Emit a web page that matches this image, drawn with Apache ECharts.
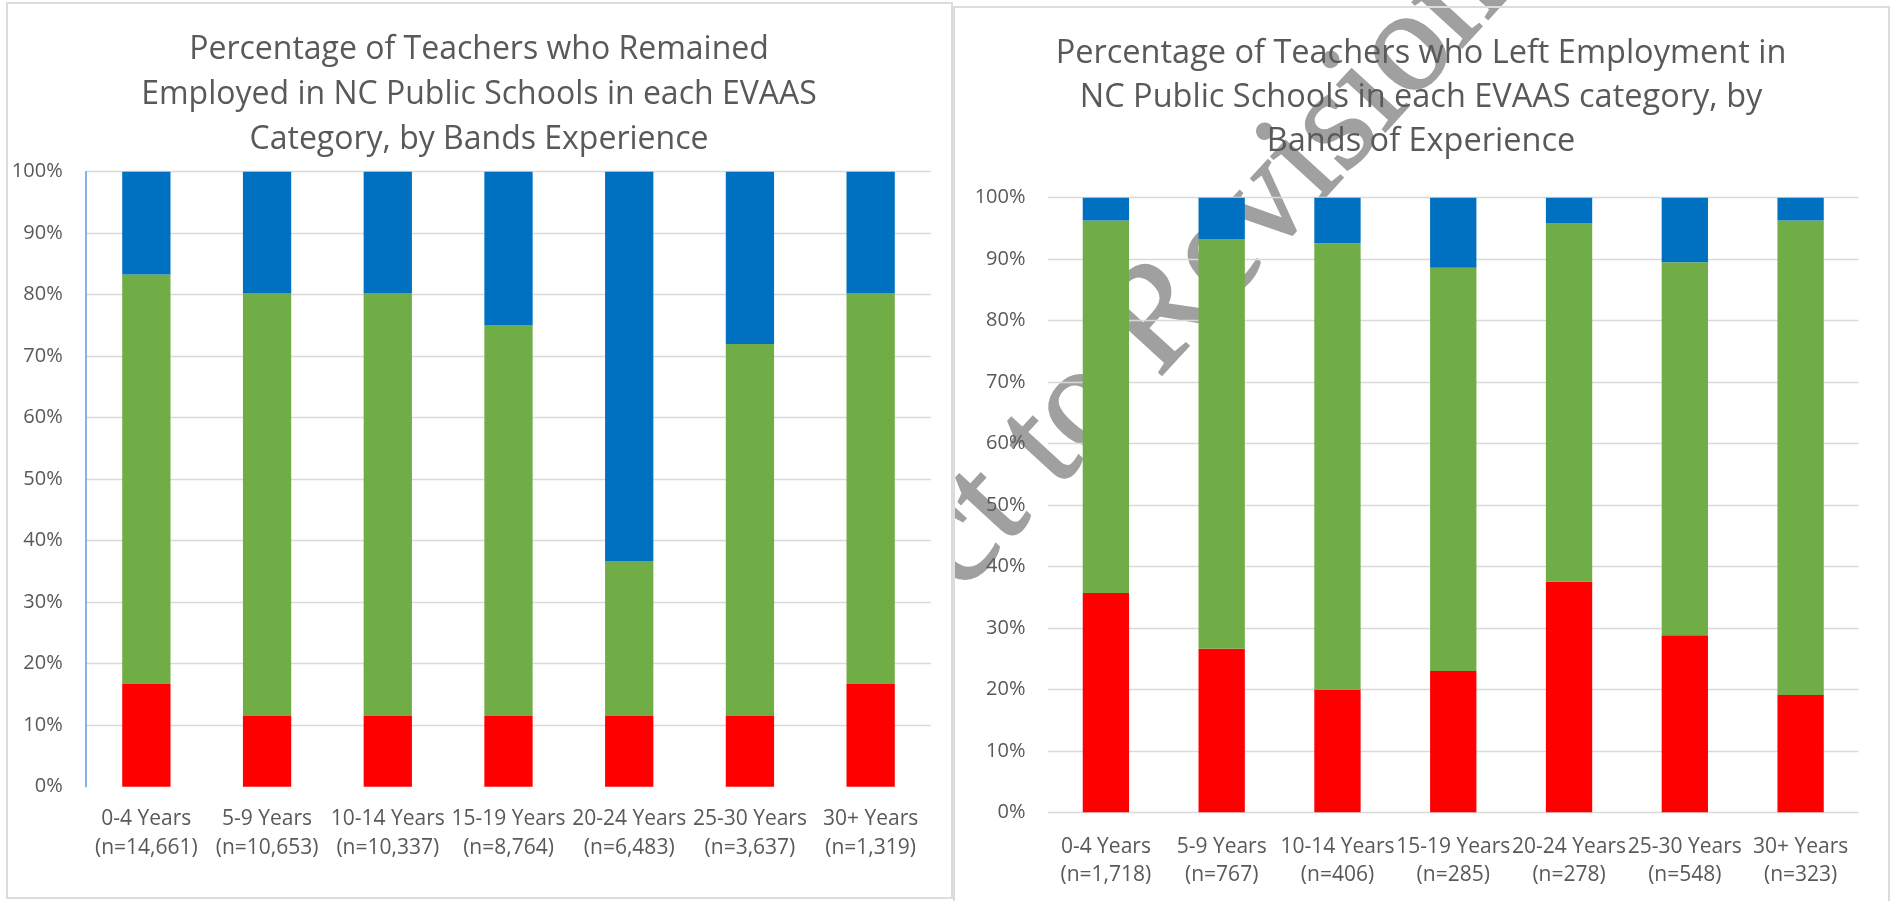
<!DOCTYPE html>
<html>
<head>
<meta charset="utf-8">
<script src="https://cdn.jsdelivr.net/npm/echarts@6/dist/echarts.min.js"></script>
<style>
html,body{margin:0;padding:0;background:#ffffff;}
#chart{width:1897px;height:901px;}
</style>
</head>
<body>
<div id="chart"></div>
<script>
// ---- Data ----
const titleLeft = 'Percentage of Teachers who Remained\nEmployed in NC Public Schools in each EVAAS\nCategory, by Bands Experience';
const titleRight = 'Percentage of Teachers who Left Employment in\nNC Public Schools in each EVAAS category, by\nBands of Experience';

const bands = ['0-4 Years', '5-9 Years', '10-14 Years', '15-19 Years', '20-24 Years', '25-30 Years', '30+ Years'];
const nRemained = ['14,661', '10,653', '10,337', '8,764', '6,483', '3,637', '1,319'];
const nLeft = ['1,718', '767', '406', '285', '278', '548', '323'];

// Stacked segment sizes in percent: bottom (red), middle (green), top (blue)
const remainedRed   = [16.7, 11.5, 11.5, 11.5, 11.5, 11.5, 16.7];
const remainedGreen = [66.6, 68.7, 68.7, 63.5, 25.2, 60.5, 63.5];
const remainedBlue  = [16.7, 19.8, 19.8, 25.0, 63.3, 28.0, 19.8];

const leftRed   = [35.7, 26.6, 20.0, 23.0, 37.5, 28.8, 19.1];
const leftGreen = [60.6, 66.7, 72.6, 65.6, 58.4, 60.7, 77.2];
const leftBlue  = [3.7, 6.7, 7.4, 11.4, 4.1, 10.5, 3.7];

const seriesNames = ['Does Not Meet', 'Meets', 'Exceeds'];
const yMin = 0, yMax = 100, yStep = 10;
const watermarkText = 'Subject to Revision';

// ---- Styles ----
const FONT = '"Open Sans", "Noto Sans", sans-serif';
const TXT = '#595959';
const RED = '#FF0000', GREEN = '#70AD47', BLUE = '#0070C0';

const catsRemained = bands.map((b, i) => b + '\n(n=' + nRemained[i] + ')');
const catsLeft = bands.map((b, i) => b + '\n(n=' + nLeft[i] + ')');

function xAxisFor(grid, data, margin) {
  return {
    type: 'category', gridIndex: grid, data: data,
    axisLine: {show: false}, axisTick: {show: false},
    axisLabel: {interval: 0, margin: margin, fontFamily: FONT, fontSize: 21, color: TXT, lineHeight: 28.7}
  };
}
function yAxisFor(grid, showLine, margin, showMin) {
  return {
    type: 'value', gridIndex: grid, min: yMin, max: yMax, interval: yStep,
    axisLabel: {formatter: '{value}%', margin: margin, fontFamily: FONT, fontSize: 20, color: TXT},
    axisLine: {show: showLine, lineStyle: {color: '#5B9BD5', width: 1.5}},
    axisTick: {show: false},
    splitLine: {show: true, showMinLine: showMin, lineStyle: {color: '#d9d9d9', width: 1.3}}
  };
}
function bar(name, color, data, idx, stack) {
  return {
    name: name, type: 'bar', stack: stack, xAxisIndex: idx, yAxisIndex: idx,
    barWidth: '40%', data: data, itemStyle: {color: color}, silent: true
  };
}

const chart = echarts.init(document.getElementById('chart'), null, {renderer: 'canvas'});
const rad = 47.5 * Math.PI / 180;
chart.setOption({
  animation: false,
  backgroundColor: '#ffffff',
  title: [
    {text: titleLeft, left: 479, top: 27, textAlign: 'center', padding: 0,
     textStyle: {fontFamily: FONT, fontSize: 32, fontWeight: 'normal', color: TXT, lineHeight: 45}},
    {text: titleRight, left: 1421, top: 32, textAlign: 'center', padding: 0,
     textStyle: {fontFamily: FONT, fontSize: 32.5, fontWeight: 'normal', color: TXT, lineHeight: 44}}
  ],
  grid: [
    {left: 86, right: 966, top: 171.7, bottom: 114.3, containLabel: false},
    {left: 1048, right: 38.5, top: 197.7, bottom: 88.7, containLabel: false}
  ],
  xAxis: [xAxisFor(0, catsRemained, 17.8), xAxisFor(1, catsLeft, 20)],
  yAxis: [yAxisFor(0, true, 23.3, false), yAxisFor(1, false, 22.5, true)],
  series: [
    bar(seriesNames[0], RED, remainedRed, 0, 'remained'),
    bar(seriesNames[1], GREEN, remainedGreen, 0, 'remained'),
    bar(seriesNames[2], BLUE, remainedBlue, 0, 'remained'),
    bar(seriesNames[0], RED, leftRed, 1, 'left'),
    bar(seriesNames[1], GREEN, leftGreen, 1, 'left'),
    bar(seriesNames[2], BLUE, leftBlue, 1, 'left')
  ],
  graphic: {
    elements: [
      {type: 'text', x: 1480.9, y: -29.8, rotation: rad, z: -10, silent: true,
       style: {text: watermarkText, font: '146px "Liberation Serif", "DejaVu Serif", serif',
               fill: '#a0a0a0', stroke: '#a0a0a0', lineWidth: 2, align: 'right', verticalAlign: 'middle'}},
      {type: 'rect', z: -5, silent: true, shape: {x: 0, y: 0, width: 953, height: 901},
       style: {fill: '#ffffff'}},
      {type: 'rect', z: -4, silent: true, shape: {x: 7, y: 3, width: 945, height: 895},
       style: {fill: null, stroke: '#dcdcdc', lineWidth: 2}},
      {type: 'rect', z: -4, silent: true, shape: {x: 954, y: 7, width: 935, height: 910},
       style: {fill: null, stroke: '#dcdcdc', lineWidth: 2}}
    ]
  }
});
</script>
</body>
</html>
